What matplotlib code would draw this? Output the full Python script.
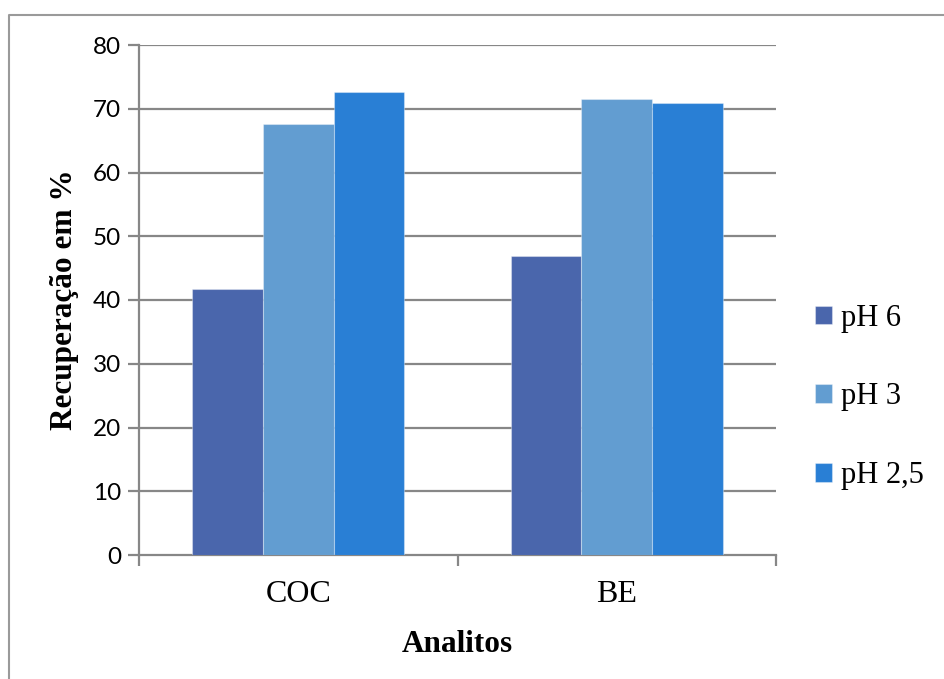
import matplotlib.pyplot as plt
import numpy as np
from matplotlib.lines import Line2D

# recovery (%) per analyte and extraction pH
analitos = ['COC', 'BE']
series = ['pH 6', 'pH 3', 'pH 2,5']
ph6 = [41.8, 46.9]
ph3 = [67.6, 71.6]
ph25 = [72.6, 70.9]
cores = ['#4A66AC', '#629DD1', '#297FD5']

W, H = 944, 679
fig = plt.figure(figsize=(W / 100, H / 100), dpi=100)
fig.patch.set_facecolor('white')

# outer frame (left and top edge only)
fig.add_artist(Line2D([9 / W, 9 / W, 1], [0, 1 - 15 / H, 1 - 15 / H],
                      transform=fig.transFigure, color='#9a9a9a', lw=1.5))

ax = fig.add_axes([139 / W, (H - 555) / H, (776 - 139) / W, (555 - 45) / H])
grid_c = '#878787'

x = np.arange(len(analitos)) + 0.5
bw = 0.2215
for k, (vals, c, lab) in enumerate(zip([ph6, ph3, ph25], cores, series)):
    ax.bar(x + (k - 1) * bw, vals, bw, color=c, label=lab,
           edgecolor=(1, 1, 1, 0.35), linewidth=0.8, zorder=3)

ax.set_xlim(0, 2)
ax.set_ylim(0, 80)
ax.set_yticks(range(0, 81, 10))
for v in range(10, 81, 10):
    ax.axhline(v, color=grid_c, lw=1.6, zorder=1)

for s in ['top', 'right']:
    ax.spines[s].set_visible(False)
for s in ['left', 'bottom']:
    ax.spines[s].set_color(grid_c)
    ax.spines[s].set_linewidth(1.6)

ax.tick_params(axis='y', direction='out', length=8, width=1.6, color=grid_c,
               labelsize=17.5, pad=5)
for t in ax.get_yticklabels():
    t.set_family('Lato')

ax.set_xticks(x)
ax.set_xticklabels(analitos, family='Liberation Serif', fontsize=23)
ax.set_xticks([0, 1, 2], minor=True)
ax.tick_params(axis='x', which='major', length=0, pad=18)
ax.tick_params(axis='x', which='minor', direction='out', length=8, width=1.6,
               color=grid_c)

ax.set_xlabel('Analitos', family='Liberation Serif', fontsize=22.5,
              fontweight='bold', labelpad=15)
ax.set_ylabel('Recuperação em %', family='Liberation Serif', fontsize=22.5,
              fontweight='bold', labelpad=10)

leg = ax.legend(loc='center left', bbox_to_anchor=(1.061, 0.31), frameon=False,
                prop={'family': 'Liberation Serif', 'size': 22},
                handlelength=0.55, handleheight=0.55, handletextpad=0.3,
                labelspacing=1.63, borderpad=0, borderaxespad=0)

fig.savefig('out.png', dpi=100, facecolor='white')
